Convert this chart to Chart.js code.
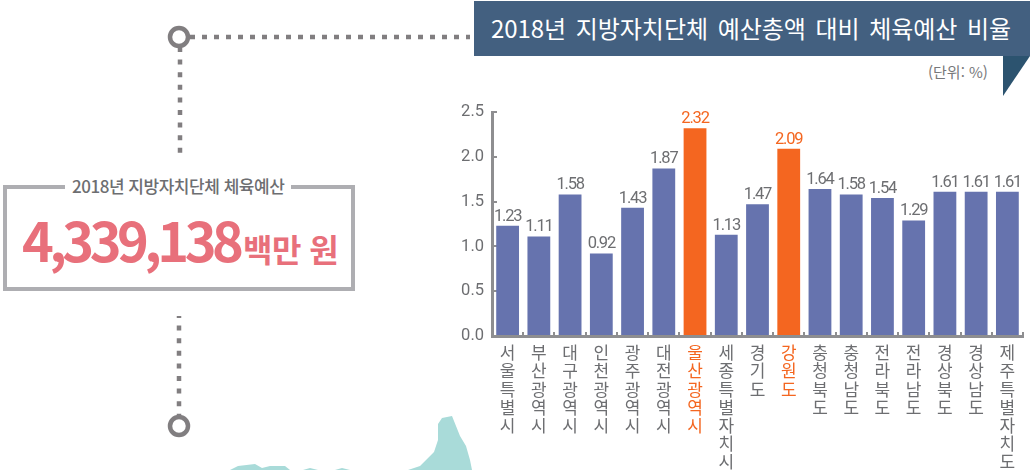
<!DOCTYPE html>
<html lang="ko"><head><meta charset="utf-8">
<script src="https://cdn.jsdelivr.net/npm/chart.js@4/dist/chart.umd.min.js"></script>
<style>
html,body{margin:0;padding:0;background:#fff;overflow:hidden}
#wrap{position:relative;width:1030px;height:470px;font-family:"Noto Sans CJK KR","Noto Sans",sans-serif}
#wrap canvas{position:absolute;left:0;top:0}
#deco{position:absolute;left:0;top:0}
.t{position:absolute;white-space:nowrap;line-height:1}
#banner{position:absolute;left:474px;top:1px;width:556px;height:55px;background:#436080}
#box{position:absolute;left:3px;top:185px;width:344px;height:98px;border:4px solid #aeaeb2}
</style></head><body>
<div id="wrap">
<svg id="deco" width="1030" height="470">
  <path d="M230 470L238 466L255 464L262 468L270 466L285 466L290 470ZM303 470L310 468L318 470ZM335 470L342 468L350 470ZM408 470L420 466L434 452L438 440L438 424L442 418L452 416L460 436L466 446L470 460L472 470Z" fill="#a9dbd9"/>
  <path d="M1003 56H1030L1003 96Z" fill="#2c536f"/>
  <g stroke="#817e80" stroke-width="4.5" fill="none">
    <path d="M190 37H470" stroke-dasharray="5 7"/>
    <path d="M180 47V153" stroke-dasharray="5 7.6"/>
    <path d="M179 316V415" stroke-dasharray="5 7.6" stroke-dashoffset="3"/>
    <circle cx="179" cy="37" r="9"/>
    <circle cx="179" cy="426" r="9"/>
  </g>
</svg>
<div id="banner"></div>
<div class="t" id="title" style="left:491px;top:16px;font-size:24px;color:#fff;word-spacing:3px;letter-spacing:-.05px">2018년 지방자치단체 예산총액 대비 체육예산 비율</div>
<div class="t" style="left:928px;top:64px;font-size:15px;color:#77787b">(단위: %)</div>
<div id="box"></div>
<div class="t" style="left:65px;top:177px;padding:0 7px;background:#fff;font-size:17px;color:#6d6e71;letter-spacing:-.47px;font-weight:500">2018년 지방자치단체 체육예산</div>
<div class="t" style="left:22px;top:212px;font-size:54px;font-weight:700;color:#e8707b;letter-spacing:-4.55px">4,339,138</div>
<div class="t" style="left:243px;top:232px;font-size:32px;font-weight:700;color:#e8707b;letter-spacing:-.5px">백만 원</div>
<canvas id="c" width="1030" height="470"></canvas>
</div>
<script>
const categories = ["서울특별시","부산광역시","대구광역시","인천광역시","광주광역시","대전광역시","울산광역시","세종특별자치시","경기도","강원도","충청북도","충청남도","전라북도","전라남도","경상북도","경상남도","제주특별자치도"];
const ratioValues = [1.23,1.11,1.58,0.92,1.43,1.87,2.32,1.13,1.47,2.09,1.64,1.58,1.54,1.29,1.61,1.61,1.61];
const highlighted = ["울산광역시","강원도"];
const yTicks = [0,0.5,1,1.5,2,2.5];

const BLUE = "#6673ae", ORANGE = "#f46620", GREY = "#6d6e71", AXIS = "#8e8e90";
const isHi = i => highlighted.includes(categories[i]);

const valueLabels = {
  id: "valueLabels",
  afterDatasetsDraw(chart) {
    const ctx = chart.ctx, meta = chart.getDatasetMeta(0);
    ctx.save();
    ctx.font = "16.5px Roboto";
    ctx.letterSpacing = "-1.2px";
    ctx.textAlign = "center";
    ctx.textBaseline = "bottom";
    meta.data.forEach((bar, i) => {
      ctx.fillStyle = isHi(i) ? ORANGE : GREY;
      ctx.fillText(ratioValues[i].toFixed(2), bar.x, bar.y - 1);
    });
    ctx.restore();
  }
};

new Chart(document.getElementById("c"), {
  type: "bar",
  data: {
    labels: categories,
    datasets: [{
      data: ratioValues,
      backgroundColor: ratioValues.map((v, i) => isHi(i) ? ORANGE : BLUE),
      borderWidth: 0,
      categoryPercentage: 1,
      barPercentage: 0.73
    }]
  },
  plugins: [valueLabels],
  options: {
    responsive: false,
    animation: false,
    layout: { padding: { top: 112, right: 7, left: 0, bottom: 0 } },
    plugins: { legend: { display: false }, tooltip: { enabled: false } },
    scales: {
      x: {
        offset: true,
        afterFit(s) { s.height = 134; },
        border: { color: AXIS, width: 3 },
        grid: { offset: true, drawOnChartArea: false, color: AXIS, lineWidth: 2, tickLength: -4 },
        ticks: {
          autoSkip: false, maxRotation: 0, minRotation: 0, padding: 12,
          font: { family: '"Noto Sans CJK KR"', size: 17, lineHeight: 1.06 },
          color: c => isHi(c.index) ? ORANGE : GREY,
          callback(v, i) { return Array.from(categories[i]); }
        }
      },
      y: {
        min: 0, max: 2.5,
        afterFit(s) { s.width = 492; },
        afterBuildTicks(s) { s.ticks = yTicks.map(value => ({ value })); },
        border: { color: AXIS, width: 3 },
        grid: { drawOnChartArea: false, color: AXIS, lineWidth: 2, tickLength: -5 },
        ticks: {
          padding: 13, color: GREY,
          font: { family: "Roboto", size: 16.5 },
          callback: v => v.toFixed(1)
        }
      }
    }
  }
});
</script>
</body></html>
